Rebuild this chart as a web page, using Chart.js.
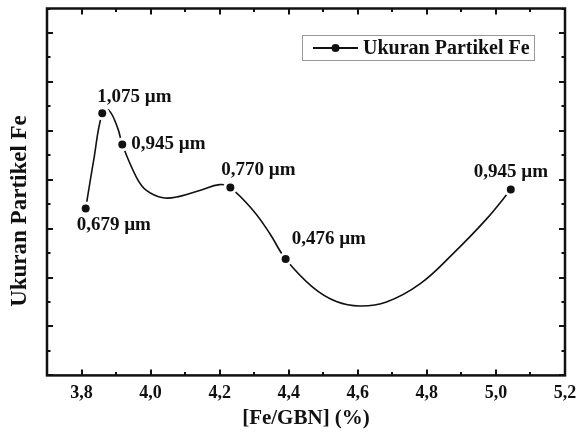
<!DOCTYPE html>
<html>
<head>
<meta charset="utf-8">
<script src="https://cdn.jsdelivr.net/npm/chart.js@4.4.1/dist/chart.umd.min.js"></script>
<style>
  html, body { margin: 0; padding: 0; background: #fff; }
  #wrap { width: 580px; height: 437px; }
</style>
</head>
<body>
<div id="wrap"><canvas id="myChart" width="580" height="437"></canvas></div>
<script>
// measured points
let feX = [3.812, 3.860, 3.918, 4.231, 4.391, 5.043];
let feY = [3.41, 5.36, 4.72, 3.84, 2.38, 3.80];
let sizeLabels = ['0,679 µm', '1,075 µm', '0,945 µm', '0,770 µm', '0,476 µm', '0,945 µm'];

// fitted curve
let curveX = [3.812, 3.835, 3.860, 3.879, 3.905, 3.918, 3.959, 3.988, 4.036, 4.084, 4.142, 4.200, 4.231,
  4.297, 4.345, 4.391, 4.470, 4.538, 4.606, 4.683, 4.780, 4.876, 4.973, 5.043];
let curveY = [3.41, 4.39, 5.36, 5.42, 5.05, 4.72, 4.05, 3.78, 3.63, 3.66, 3.78, 3.90, 3.84,
  3.37, 2.90, 2.38, 1.80, 1.51, 1.42, 1.50, 1.87, 2.49, 3.20, 3.80];

let xTickVals = [3.8, 4.0, 4.2, 4.4, 4.6, 4.8, 5.0, 5.2];
let xTickLabels = ['3,8', '4,0', '4,2', '4,4', '4,6', '4,8', '5,0', '5,2'];
let yTickVals = [0, 1, 2, 3, 4, 5, 6, 7];

let seriesName = 'Ukuran Partikel Fe';
let xTitle = '[Fe/GBN] (%)';
let yTitle = 'Ukuran Partikel Fe';

const serif = "'Liberation Serif', 'Times New Roman', serif";
// label offsets from marker (text left, text middle)
const labelOffsets = [[-9, 17], [-5, -16], [9, 0], [-9, -17], [6, -20], [-37, -17]];

function toPoints(xs, ys) {
  let arr = [];
  for (let i = 0; i < xs.length; i++) arr.push({ x: xs[i], y: ys[i] });
  return arr;
}

const framePlugin = {
  id: 'frame',
  afterDatasetsDraw(chart) {
    const ctx = chart.ctx;
    const a = chart.chartArea;
    const xs = chart.scales.x;
    const ys = chart.scales.y;
    ctx.save();
    ctx.strokeStyle = '#111';
    ctx.lineWidth = 2;
    // ticks
    const majLen = 6, minLen = 3.5;
    let xMinor = [];
    for (let i = 0; i < xTickVals.length; i++) {
      let v = xTickVals[i] - 0.1;
      if (v > xs.min + 0.01) xMinor.push(v);
    }
    ctx.beginPath();
    xTickVals.forEach(v => {
      let px = Math.round(xs.getPixelForValue(v));
      ctx.moveTo(px, a.bottom); ctx.lineTo(px, a.bottom - majLen);
      ctx.moveTo(px, a.top); ctx.lineTo(px, a.top + majLen);
    });
    xMinor.forEach(v => {
      let px = Math.round(xs.getPixelForValue(v));
      ctx.moveTo(px, a.bottom); ctx.lineTo(px, a.bottom - minLen);
      ctx.moveTo(px, a.top); ctx.lineTo(px, a.top + minLen);
    });
    yTickVals.forEach(v => {
      let py = Math.round(ys.getPixelForValue(v));
      ctx.moveTo(a.left, py); ctx.lineTo(a.left + majLen, py);
      ctx.moveTo(a.right, py); ctx.lineTo(a.right - majLen, py);
      let pm = Math.round(ys.getPixelForValue(v + 0.5));
      ctx.moveTo(a.left, pm); ctx.lineTo(a.left + minLen, pm);
      ctx.moveTo(a.right, pm); ctx.lineTo(a.right - minLen, pm);
    });
    ctx.stroke();
    ctx.lineWidth = 2.5;
    ctx.strokeRect(a.left, a.top, a.right - a.left, a.bottom - a.top);

    // point labels
    ctx.fillStyle = '#111';
    ctx.font = 'bold 19px ' + serif;
    ctx.textBaseline = 'middle';
    ctx.textAlign = 'left';
    for (let i = 0; i < feX.length; i++) {
      let px = xs.getPixelForValue(feX[i]);
      let py = ys.getPixelForValue(feY[i]);
      ctx.fillText(sizeLabels[i], px + labelOffsets[i][0], py + labelOffsets[i][1]);
    }

    // legend
    ctx.strokeStyle = '#999';
    ctx.lineWidth = 1;
    ctx.strokeRect(302.5, 35.5, 232, 25);
    ctx.strokeStyle = '#111';
    ctx.lineWidth = 2;
    ctx.beginPath();
    ctx.moveTo(313, 48); ctx.lineTo(358, 48);
    ctx.stroke();
    ctx.beginPath();
    ctx.arc(335.5, 48, 4, 0, Math.PI * 2);
    ctx.fill();
    ctx.font = 'bold 20px ' + serif;
    ctx.fillText(seriesName, 363, 48.5);

    // axis titles
    ctx.font = 'bold 21px ' + serif;
    ctx.textAlign = 'center';
    ctx.fillText(xTitle, (a.left + a.right) / 2, 419);
    ctx.translate(20, 211);
    ctx.rotate(-Math.PI / 2);
    ctx.font = 'bold 23px ' + serif;
    ctx.fillText(yTitle, 0, 0);
    ctx.restore();
  }
};

new Chart(document.getElementById('myChart'), {
  type: 'scatter',
  data: {
    datasets: [
      {
        label: 'curve',
        type: 'line',
        data: toPoints(curveX, curveY),
        showLine: true,
        tension: 0.4,
        borderColor: '#111',
        borderWidth: 1.6,
        pointRadius: 0,
        fill: false,
        order: 2,
      },
      {
        label: seriesName,
        data: toPoints(feX, feY),
        pointRadius: 5.5,
        pointBackgroundColor: '#111',
        pointBorderColor: '#fff',
        pointBorderWidth: 3,
        order: 1,
      },
    ],
  },
  options: {
    responsive: false,
    animation: false,
    layout: { padding: { left: 47, top: 8, right: 15, bottom: 26 } },
    plugins: { legend: { display: false }, tooltip: { enabled: false } },
    scales: {
      x: {
        type: 'linear',
        min: 3.7,
        max: 5.2,
        grid: { display: false, drawTicks: false },
        border: { display: false },
        afterBuildTicks: s => { s.ticks = xTickVals.map(v => ({ value: v })); },
        afterFit: s => { s.paddingRight = 0; s.paddingLeft = 0; },
        ticks: {
          padding: 7,
          color: '#111',
          font: { family: serif, size: 18, weight: 'bold' },
          maxRotation: 0,
          callback: (v) => xTickLabels[xTickVals.findIndex(t => Math.abs(t - v) < 1e-6)],
        },
      },
      y: {
        type: 'linear',
        min: 0,
        max: 7.5,
        display: false,
      },
    },
  },
  plugins: [framePlugin],
});
</script>
</body>
</html>
